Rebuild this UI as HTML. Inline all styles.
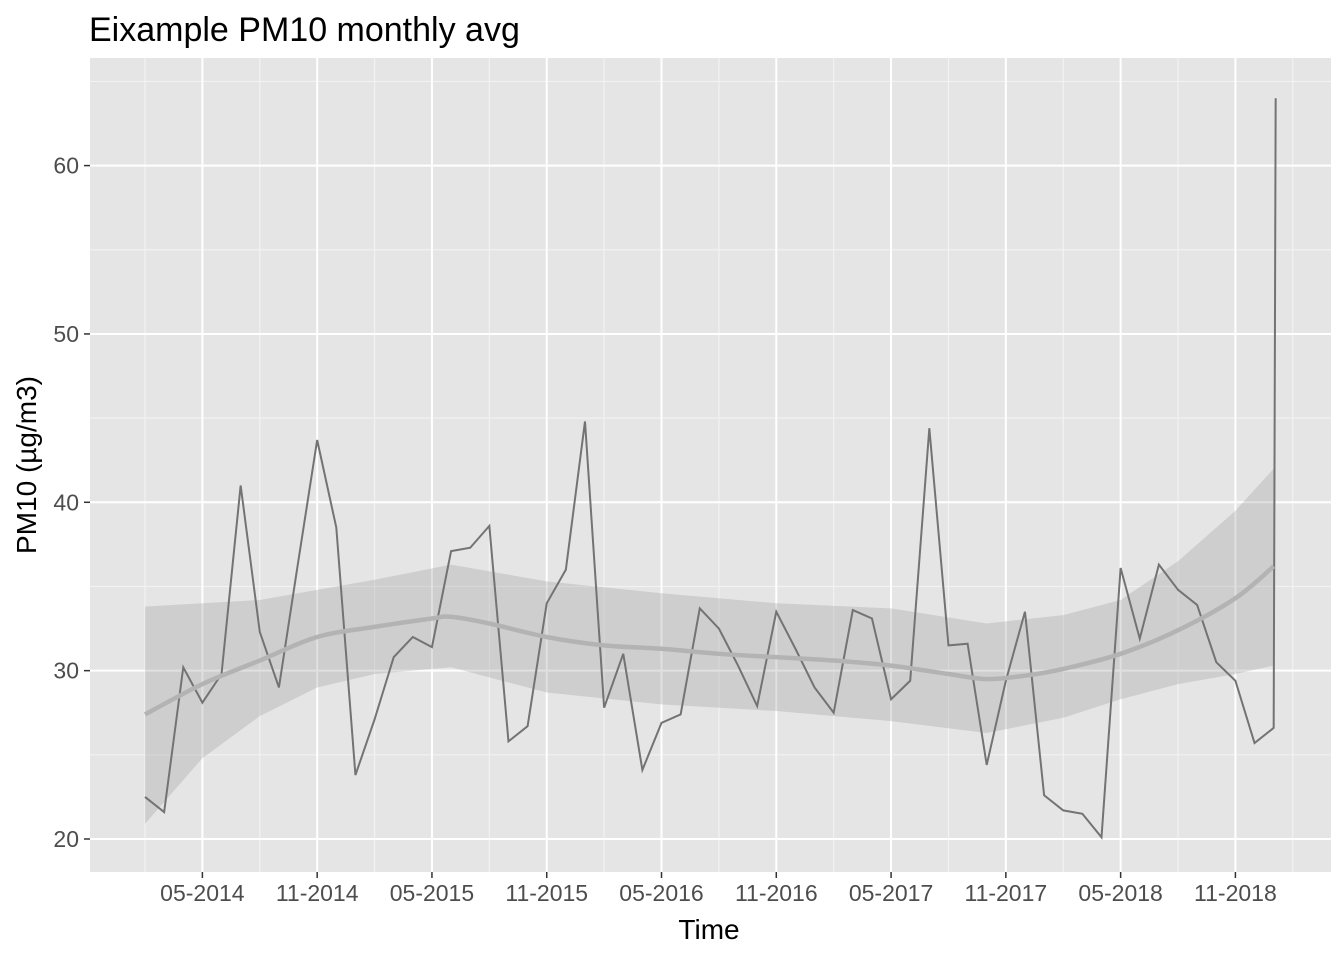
<!DOCTYPE html>
<html><head><meta charset="utf-8"><style>
body{margin:0;background:#fff;}
svg text{font-family:"Liberation Sans",Arial,sans-serif;}
</style></head><body>
<svg id="chart" width="1344" height="960" xmlns="http://www.w3.org/2000/svg">
<text x="89" y="41" font-size="34" fill="#000">Eixample PM10 monthly avg</text>
<rect x="90" y="58" width="1241" height="814" fill="#e5e5e5"/>
<g id="grid"></g>
<g id="marks"></g>
<g id="axes"></g>
<text x="709" y="939" font-size="28" text-anchor="middle">Time</text>
<text transform="translate(36,465) rotate(-90)" font-size="28" text-anchor="middle">PM10 (µg/m3)</text>
</svg>
<script>
const values=[22.5,21.6,30.2,28.1,29.8,41.0,32.3,29.0,36.4,43.7,38.5,23.8,27.1,30.8,32.0,31.4,37.1,37.3,38.6,25.8,26.7,34.0,36.0,44.8,27.8,31.0,24.1,26.9,27.4,33.7,32.5,30.3,27.9,33.5,31.3,29.0,27.5,33.6,33.1,28.3,29.4,44.4,31.5,31.6,24.4,29.4,33.5,22.6,21.7,21.5,20.1,36.1,31.9,36.3,34.8,33.9,30.5,29.4,25.7,26.6];
const lastSpike=64;
const smoothIdx=[0,3,6,9,12,15,16,18,21,24,27,30,33,36,39,42,44,46,48,51,54,57,59];
const smoothVal=[27.4,29.2,30.6,32.0,32.6,33.1,33.2,32.8,32.0,31.5,31.3,31.0,30.8,30.6,30.3,29.8,29.5,29.7,30.1,31.0,32.4,34.3,36.2];
const bandIdx=[0,3,6,9,12,16,21,27,33,39,44,48,51,54,57,59];
const bandUpper=[33.8,34.0,34.2,34.8,35.4,36.3,35.3,34.6,34.0,33.7,32.8,33.3,34.2,36.5,39.5,42.0];
const bandLower=[20.9,24.8,27.3,29.0,29.8,30.2,28.7,28.0,27.6,27.0,26.3,27.2,28.3,29.2,29.8,30.3];
const yTicks=[20,30,40,50,60];
const xTickLabels=["05-2014","11-2014","05-2015","11-2015","05-2016","11-2016","05-2017","11-2017","05-2018","11-2018"];
const xTickIdx=[3,9,15,21,27,33,39,45,51,57];

const X=i=>145+i*19.13;
const Y=v=>839-(v-20)*16.835;
const NS="http://www.w3.org/2000/svg";
function mk(parent,tag,attrs){const e=document.createElementNS(NS,tag);for(const k in attrs)e.setAttribute(k,attrs[k]);document.getElementById(parent).appendChild(e);return e;}
for(let v=25;v<=65;v+=10){const l=mk('grid','line',{x1:90,x2:1331,y1:Y(v),y2:Y(v),stroke:'#f2f2f2','stroke-width':1.2});

}
for(let i=0;i<=xTickIdx.length;i++){const xi=(i===0?xTickIdx[0]-3:xTickIdx[i-1]+3);const l=mk('grid','line',{x1:X(xi),x2:X(xi),y1:58,y2:872,stroke:'#f2f2f2','stroke-width':1.2});

}
yTicks.forEach(v=>{const l=mk('grid','line',{x1:90,x2:1331,y1:Y(v),y2:Y(v),stroke:'#fff','stroke-width':2});


const t=mk('axes','line',{x1:84,x2:90,y1:Y(v),y2:Y(v),stroke:'#333','stroke-width':1.5});


const tx=mk('axes','text',{x:79,y:Y(v)+8,'font-size':23,'text-anchor':'end',fill:'#4d4d4d'});tx.textContent=v;

});
xTickIdx.forEach((xi,k)=>{const l=mk('grid','line',{x1:X(xi),x2:X(xi),y1:58,y2:872,stroke:'#fff','stroke-width':2});


const t=mk('axes','line',{x1:X(xi),x2:X(xi),y1:872,y2:878,stroke:'#333','stroke-width':1.5});


const tx=mk('axes','text',{x:X(xi),y:901,'font-size':23,'text-anchor':'middle',fill:'#4d4d4d'});tx.textContent=xTickLabels[k];

});
let bp='M'+bandIdx.map((i,k)=>X(i)+','+Y(bandUpper[k])).join(' L');
for(let k=bandIdx.length-1;k>=0;k--)bp+=' L'+X(bandIdx[k])+','+Y(bandLower[k]);
const band=mk('marks','path',{d:bp+' Z',fill:'#999','fill-opacity':0.3,stroke:'none'});


let dp='M'+values.map((v,i)=>X(i)+','+Y(v)).join(' L')+' L'+(X(values.length-1)+2)+','+Y(lastSpike);
const dl=mk('marks','path',{d:dp,fill:'none',stroke:'#737373','stroke-width':2});


const pts=smoothIdx.map((i,k)=>[X(i),Y(smoothVal[k])]);
let sp='M'+pts[0];
for(let k=0;k<pts.length-1;k++){const p0=pts[k-1]||pts[k],p1=pts[k],p2=pts[k+1],p3=pts[k+2]||p2;
sp+=' C'+(p1[0]+(p2[0]-p0[0])/6)+','+(p1[1]+(p2[1]-p0[1])/6)+' '+(p2[0]-(p3[0]-p1[0])/6)+','+(p2[1]-(p3[1]-p1[1])/6)+' '+p2[0]+','+p2[1];}
const sl=mk('marks','path',{d:sp,fill:'none',stroke:'#b3b3b3','stroke-width':4.5});


</script>
</body></html>
